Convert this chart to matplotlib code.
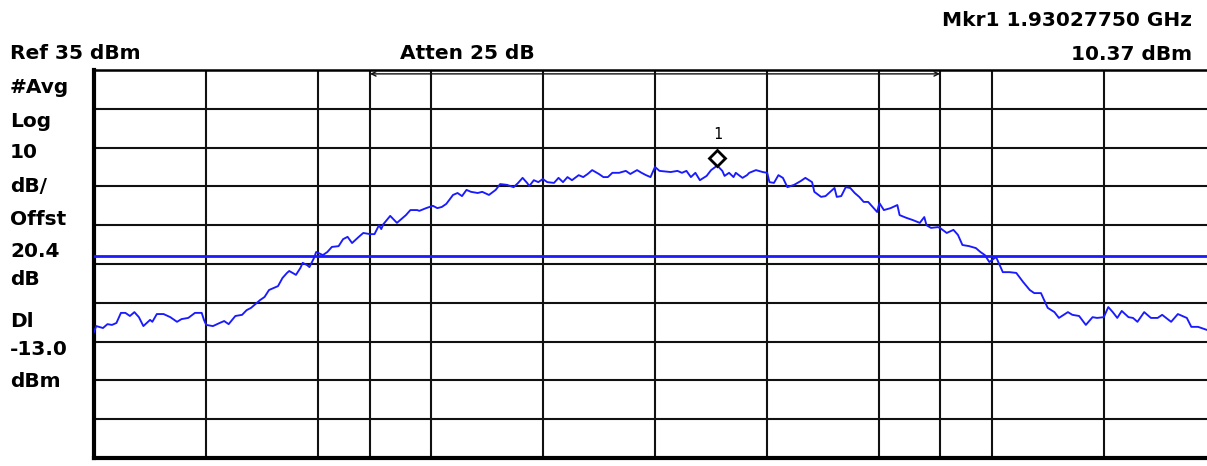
import numpy as np
import matplotlib
matplotlib.use("Agg")
import matplotlib.pyplot as plt
import matplotlib.transforms as mtransforms

# ---- data ----
freq_mhz = [
    1927.50, 1927.51, 1927.54, 1927.56, 1927.58, 1927.60, 1927.62, 1927.64, 1927.66, 1927.68,
    1927.70, 1927.72, 1927.75, 1927.76, 1927.78, 1927.81, 1927.84, 1927.87, 1927.89, 1927.92,
    1927.95, 1927.98, 1927.99, 1928.00, 1928.03, 1928.06, 1928.08, 1928.10, 1928.13, 1928.16,
    1928.18, 1928.20, 1928.24, 1928.26, 1928.28, 1928.32, 1928.34, 1928.36, 1928.37, 1928.40,
    1928.42, 1928.43, 1928.45, 1928.46, 1928.48, 1928.49, 1928.52, 1928.54, 1928.56, 1928.59,
    1928.61, 1928.63, 1928.65, 1928.68, 1928.70, 1928.73, 1928.75, 1928.77, 1928.78, 1928.79,
    1928.82, 1928.85, 1928.89, 1928.91, 1928.94, 1928.95, 1928.98, 1929.01, 1929.03, 1929.05,
    1929.07, 1929.10, 1929.12, 1929.14, 1929.16, 1929.18, 1929.21, 1929.23, 1929.26, 1929.29,
    1929.31, 1929.34, 1929.37, 1929.39, 1929.41, 1929.43, 1929.44, 1929.46, 1929.48, 1929.50,
    1929.52, 1929.55, 1929.57, 1929.59, 1929.61, 1929.63, 1929.66, 1929.68, 1929.70, 1929.72,
    1929.75, 1929.77, 1929.79, 1929.81, 1929.84, 1929.87, 1929.89, 1929.92, 1929.94, 1929.96,
    1929.98, 1930.00, 1930.02, 1930.07, 1930.10, 1930.12, 1930.14, 1930.16, 1930.18, 1930.20,
    1930.23, 1930.25, 1930.2775, 1930.30, 1930.31, 1930.33, 1930.35, 1930.36, 1930.39, 1930.41,
    1930.42, 1930.45, 1930.48, 1930.50, 1930.51, 1930.53, 1930.55, 1930.57, 1930.59, 1930.62,
    1930.65, 1930.67, 1930.70, 1930.71, 1930.74, 1930.76, 1930.79, 1930.80, 1930.81, 1930.83,
    1930.85, 1930.87, 1930.89, 1930.91, 1930.93, 1930.95, 1930.97, 1930.99, 1931.00, 1931.02,
    1931.05, 1931.08, 1931.09, 1931.12, 1931.15, 1931.18, 1931.20, 1931.21, 1931.23, 1931.26,
    1931.27, 1931.30, 1931.33, 1931.35, 1931.37, 1931.40, 1931.43, 1931.45, 1931.47, 1931.49,
    1931.52, 1931.55, 1931.58, 1931.61, 1931.64, 1931.67, 1931.69, 1931.72, 1931.75, 1931.78,
    1931.80, 1931.84, 1931.86, 1931.89, 1931.92, 1931.95, 1931.97, 1932.00, 1932.02, 1932.04,
    1932.06, 1932.08, 1932.11, 1932.13, 1932.15, 1932.18, 1932.21, 1932.24, 1932.26, 1932.30,
    1932.33, 1932.37, 1932.39, 1932.42, 1932.46, 1932.50,
]
level_dbm = [
    -32.5, -31.0, -31.5, -30.5, -30.7, -30.2, -27.6, -27.6, -28.4, -27.4,
    -28.7, -31.0, -29.4, -29.9, -27.9, -27.9, -28.7, -29.9, -29.2, -28.9,
    -27.6, -27.6, -29.4, -30.7, -31.0, -30.2, -29.7, -30.5, -28.4, -28.1,
    -26.9, -26.3, -24.3, -23.5, -21.7, -20.7, -18.6, -17.3, -16.8, -17.8,
    -16.0, -14.7, -15.3, -15.8, -13.5, -11.9, -12.7, -11.9, -10.6, -10.4,
    -8.6, -8.0, -9.6, -8.0, -7.0, -7.3, -7.3, -5.0, -6.0, -4.7,
    -2.6, -4.4, -2.4, -1.1, -1.1, -1.3, -0.6, 0.0, -0.6, -0.3,
    0.5, 2.8, 3.3, 2.5, 4.1, 3.6, 3.3, 3.6, 2.8, 4.1,
    5.6, 5.4, 4.8, 5.9, 7.2, 5.9, 5.1, 6.6, 6.1, 6.9,
    6.1, 5.9, 7.2, 6.1, 7.4, 6.6, 7.9, 7.4, 8.2, 9.2,
    8.2, 7.4, 7.4, 8.5, 8.5, 9.0, 8.2, 9.2, 8.5, 7.9,
    7.4, 10.0, 9.0, 8.7, 9.0, 8.5, 9.0, 7.4, 8.5, 6.6,
    7.7, 9.2, 10.37, 9.0, 7.7, 8.5, 7.4, 8.5, 7.2, 7.9,
    8.5, 9.2, 8.7, 8.5, 6.1, 5.9, 7.9, 7.2, 4.8, 5.4,
    6.4, 7.2, 6.1, 3.6, 2.3, 2.5, 4.1, 4.6, 2.3, 2.5,
    4.8, 4.6, 3.3, 2.3, 1.0, 1.0, -0.3, -1.6, 0.7, -1.1,
    -0.6, 0.2, -2.4, -3.1, -3.7, -4.4, -2.9, -5.0, -5.7, -5.5,
    -5.7, -7.0, -6.2, -7.5, -10.1, -10.4, -10.9, -11.9, -12.7, -14.5,
    -13.2, -17.1, -17.1, -17.3, -19.6, -21.7, -22.5, -22.5, -26.3, -27.4,
    -28.9, -27.4, -28.1, -28.4, -30.7, -28.7, -28.9, -28.7, -26.1, -27.4,
    -28.9, -27.1, -28.7, -28.9, -29.9, -27.4, -28.9, -28.9, -28.1, -29.9,
    -27.9, -28.9, -31.2, -31.2, -32.0, -32.2,
]

ref_level = 35.0          # dBm, top of screen
db_per_div = 10.0
display_line = -13.0      # dBm
start_mhz, stop_mhz = 1927.5, 1932.5
channel_edges = [1928.73, 1931.27]
marker_freq = 1930.2775
marker_level = 10.37

header_left = "Ref 35 dBm"
header_mid = "Atten 25 dB"
header_right = ["Mkr1 1.93027750 GHz", "10.37 dBm"]
side_labels = ["#Avg", "Log", "10", "dB/", "Offst", "20.4", "dB", "Dl", "-13.0", "dBm"]

# ---- figure ----
W, H = 1207, 466
fig = plt.figure(figsize=(W / 100, H / 100), dpi=100)
fig.patch.set_facecolor("white")

x0, y0, x1, y1 = 94, 70, 1216, 458   # plot rectangle in pixels (top-left origin)
ax = fig.add_axes([x0 / W, 1 - y1 / H, (x1 - x0) / W, (y1 - y0) / H])
ax.set_xlim(start_mhz, stop_mhz)
ax.set_ylim(ref_level - 10 * db_per_div, ref_level)
ax.set_xticks(np.arange(start_mhz, stop_mhz + 0.01, 0.5))
ax.set_yticks(np.arange(ref_level - 10 * db_per_div, ref_level + 0.1, db_per_div))
ax.tick_params(length=0, labelbottom=False, labelleft=False)
ax.grid(True, color="#111111", linewidth=1.5)
ax.set_axisbelow(True)
for s in ["left", "bottom"]:
    ax.spines[s].set_linewidth(3.0)
ax.spines["top"].set_linewidth(1.8)
ax.spines["right"].set_visible(False)

# channel edge lines
for fe in channel_edges:
    ax.axvline(fe, color="#111111", linewidth=1.5, zorder=1)
ax.annotate("", xy=(channel_edges[0], ref_level - 1.0), xytext=(channel_edges[1], ref_level - 1.0),
            arrowprops=dict(arrowstyle="<->", color="#111111", lw=1.0,
                            shrinkA=0, shrinkB=0, mutation_scale=8))

# display line
ax.axhline(display_line, color="#1a1aff", linewidth=2.0, zorder=3)

# trace
ax.plot(freq_mhz, level_dbm, color="#1a1aff", linewidth=1.35, zorder=4)

# marker (diamond drawn just above the trace point)
off = mtransforms.offset_copy(ax.transData, fig=fig, x=0, y=8, units="dots")
ax.plot([marker_freq], [marker_level], marker="D", markersize=8, markerfacecolor="white",
        markeredgecolor="black", markeredgewidth=2.0, transform=off, zorder=6, clip_on=False)
off2 = mtransforms.offset_copy(ax.transData, fig=fig, x=0, y=31, units="dots")
ax.text(marker_freq, marker_level, "1", transform=off2, ha="center", va="center",
        fontsize=10.5, family="DejaVu Sans Mono", color="black")

# ---- header / side text ----
fkw = dict(family="DejaVu Sans", fontweight="bold", fontsize=14.5, color="black")

def ftext(px, py, s, ha="left"):
    fig.text(px / W, 1 - py / H, s, ha=ha, va="baseline", **fkw)

ftext(10, 59, header_left)
ftext(400, 59, header_mid)
ftext(1192, 26, header_right[0], ha="right")
ftext(1192, 60, header_right[1], ha="right")

side_baselines = [93, 127, 158, 192, 225, 257, 285, 327, 355, 387]
for s, b in zip(side_labels, side_baselines):
    ftext(10, b, s)

fig.savefig("out.png", dpi=100, facecolor="white")
